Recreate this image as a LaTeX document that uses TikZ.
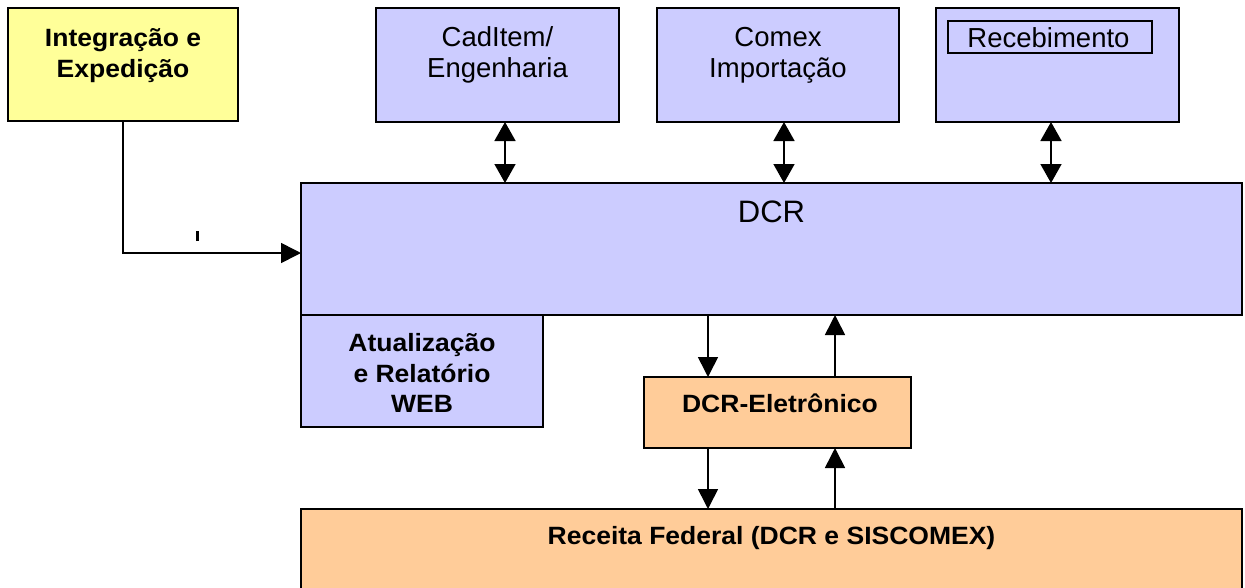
\documentclass[tikz,border=0pt]{standalone}
\usepackage{fontspec}
\setmainfont{Liberation Sans}[BoldFeatures={FakeStretch=1.06}]
\usetikzlibrary{arrows.meta}
\definecolor{lav}{HTML}{CCCCFF}
\definecolor{yel}{HTML}{FFFF99}
\definecolor{ora}{HTML}{FFCC99}
\tikzset{
  boxbase/.style={draw=black, line width=1.6pt, inner sep=0pt, outer sep=0pt},
  bluebox/.style={boxbase, fill=lav},
  yelbox/.style={boxbase, fill=yel},
  orabox/.style={boxbase, fill=ora},
  reg/.style={font=\fontsize{27.5}{31}\selectfont, anchor=base, inner sep=0pt},
  big/.style={font=\fontsize{31}{35}\selectfont, anchor=base, inner sep=0pt},
  bld/.style={font=\fontsize{25}{31}\selectfont\bfseries, anchor=base, inner sep=0pt},
  arr/.style={line width=1.6pt, -{Triangle[length=20pt,width=20pt]}},
  darr/.style={line width=1.6pt, {Triangle[length=19pt,width=21pt]}-{Triangle[length=19pt,width=21pt]}},
  conn/.style={line width=1.6pt}
}
\begin{document}
\begin{tikzpicture}[x=1pt,y=-1pt]
\useasboundingbox (0,0) rectangle (1245,587);
\clip (0,0) rectangle (1245,587);
\fill[white] (0,0) rectangle (1245,587);

% boxes
\node[yelbox, minimum width=230pt, minimum height=113pt] (integ) at (123,64.5) {};
\node[bluebox, minimum width=243pt, minimum height=114pt] (cad) at (497.5,65) {};
\node[bluebox, minimum width=242pt, minimum height=114pt] (comex) at (778,65) {};
\node[bluebox, minimum width=243pt, minimum height=114pt] (receb) at (1057.5,65) {};
\node[boxbase, fill=lav, minimum width=204pt, minimum height=32pt] (recin) at (1050,37) {};
\node[bluebox, minimum width=941pt, minimum height=132pt] (dcr) at (771.5,249) {};
\node[bluebox, minimum width=242pt, minimum height=112pt] (atual) at (422,371) {};
\node[orabox, minimum width=267pt, minimum height=71pt] (eletr) at (777.5,412.5) {};
\node[orabox, minimum width=941pt, minimum height=111pt] (receita) at (771.5,564.5) {};

% texts
\node[bld] (t1a) at (123,46) {Integração e};
\node[bld] (t1b) at (123,77) {Expedição};
\node[reg] (t2a) at (497.5,46) {CadItem/};
\node[reg] (t2b) at (497.5,77) {Engenharia};
\node[reg] (t3a) at (778,46) {Comex};
\node[reg] (t3b) at (778,77) {Importação};
\node[reg] (t4) at (1048.5,47) {Recebimento};
\node[big] (t5) at (771.5,222) {DCR};
\node[bld] (t6a) at (422,351) {Atualização};
\node[bld] (t6b) at (422,382) {e Relatório};
\node[bld] (t6c) at (422,412) {WEB};
\node[bld] (t7) at (780,412) {DCR-Eletrônico};
\node[bld] (t8) at (771.5,544) {Receita Federal (DCR e SISCOMEX)};
\node[inner sep=0pt] (tick) at (197,236) {\rule{3pt}{10pt}};

% connector coordinates
\coordinate (xa) at (505,0);
\coordinate (xb) at (784,0);
\coordinate (xc) at (1051,0);
\coordinate (xd) at (708,0);
\coordinate (xe) at (835,0);
\coordinate (yin) at (0,253);

% connectors
\draw[darr] (cad.south -| xa) -- (dcr.north -| xa);
\draw[darr] (comex.south -| xb) -- (dcr.north -| xb);
\draw[darr] (receb.south -| xc) -- (dcr.north -| xc);
\draw[arr] (integ.south) |- (dcr.west |- yin);
\draw[arr] (dcr.south -| xd) -- (eletr.north -| xd);
\draw[arr] (eletr.north -| xe) -- (dcr.south -| xe);
\draw[arr] (eletr.south -| xd) -- (receita.north -| xd);
\draw[arr] (receita.north -| xe) -- (eletr.south -| xe);
\end{tikzpicture}
\end{document}
